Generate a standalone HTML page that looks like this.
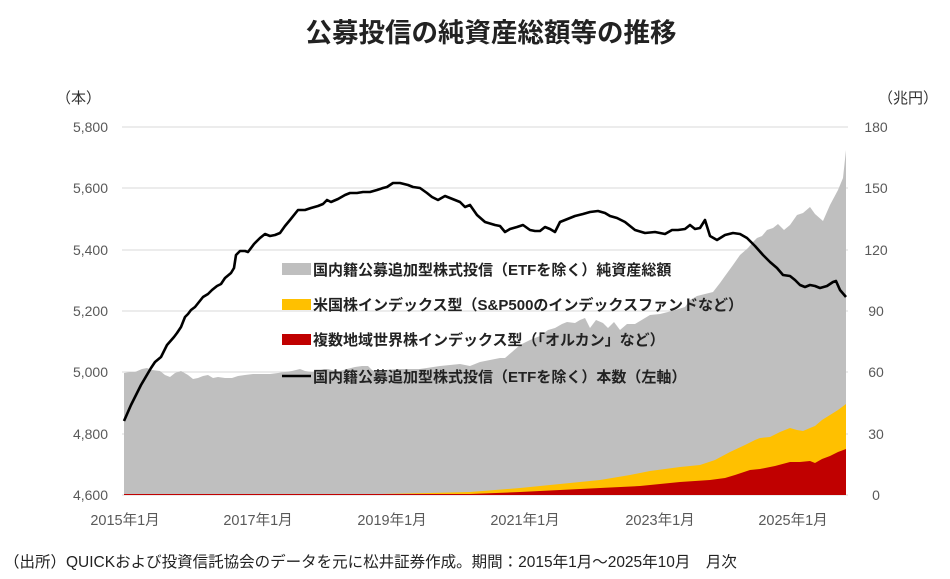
<!DOCTYPE html>
<html><head><meta charset="utf-8"><style>
html,body{margin:0;padding:0;background:#fff;}
svg text{font-family:"Liberation Sans","Noto Sans CJK JP",sans-serif;}
</style></head><body>
<svg width="950" height="574" viewBox="0 0 950 574" xmlns="http://www.w3.org/2000/svg">
<text x="491" y="42" text-anchor="middle" font-size="26.5" font-weight="bold" fill="#222">公募投信の純資産総額等の推移</text>
<text x="56" y="103" font-size="15" fill="#333">（本）</text>
<text x="878" y="103" font-size="15" fill="#333">（兆円）</text>
<g stroke="#d9d9d9" stroke-width="1">
<line x1="122" y1="127" x2="848" y2="127"/><line x1="122" y1="188" x2="848" y2="188"/>
<line x1="122" y1="250" x2="848" y2="250"/><line x1="122" y1="311" x2="848" y2="311"/>
<line x1="122" y1="372" x2="848" y2="372"/><line x1="122" y1="434" x2="848" y2="434"/>
<line x1="122" y1="495" x2="848" y2="495"/>
</g>
<g font-size="14" fill="#595959" text-anchor="end">
<text x="108" y="132">5,800</text><text x="108" y="193">5,600</text><text x="108" y="255">5,400</text>
<text x="108" y="316">5,200</text><text x="108" y="377">5,000</text><text x="108" y="439">4,800</text>
<text x="108" y="500">4,600</text>
</g>
<g font-size="14" fill="#595959" text-anchor="middle">
<text x="876" y="132">180</text><text x="876" y="193">150</text><text x="876" y="255">120</text>
<text x="876" y="316">90</text><text x="876" y="377">60</text><text x="876" y="439">30</text>
<text x="876" y="500">0</text>
</g>
<g font-size="14.5" fill="#595959" text-anchor="middle">
<text x="125" y="525">2015年1月</text><text x="258" y="525">2017年1月</text><text x="392" y="525">2019年1月</text>
<text x="525" y="525">2021年1月</text><text x="660" y="525">2023年1月</text><text x="793" y="525">2025年1月</text>
</g>
<polygon fill="#bfbfbf" points="124,495 124,373 130,372 135,372 142,369 147,368 152,370 160,371 165,375 170,377 175,373 181,371 188,375 193,379 198,378 203,376 208,375 213,378 218,377 225,378 232,378 238,376 245,375 253,374 262,374 270,374 278,373 285,372 292,371 300,369 305,371 312,372 318,371 324,369 328,369 335,371 340,371 347,369 355,367 362,366 368,366 372,370 378,373 385,370 400,369 420,369 440,366 460,364 470,366 480,362 490,360 500,358 505,358 512,352 520,345 530,340 540,336 548,330 555,328 562,324 567,322 575,323 580,320 585,318 590,328 596,320 603,323 608,328 614,322 620,330 627,324 635,324 645,318 650,315 660,314 668,312 675,310 685,307 690,300 697,296 705,294 713,292 720,283 725,276 733,265 740,255 748,248 753,242 757,238 762,236 767,230 773,228 778,224 784,230 790,225 797,215 803,213 810,207 815,214 823,221 830,205 838,190 843,178 846,150 846,495"/>
<polygon fill="#ffc000" points="124,495 124,494 300,494 380,494 430,493 470,492 520,488 560,484 600,480 630,475 650,471 680,467 700,465 715,460 730,452 745,445 755,440 760,438 770,437 780,432 790,428 797,430 803,431 810,428 815,426 822,420 830,415 838,410 846,404 846,495"/>
<polygon fill="#c00000" points="124,495 124,494 470,494 520,492 560,490 600,488 640,486 680,482 710,480 725,478 735,475 750,470 760,469 775,466 790,462 800,462 810,461 815,463 822,459 830,456 838,452 846,449 846,495"/>
<polyline fill="none" stroke="#000" stroke-width="2.6" stroke-linejoin="round" points="124,421 131,405 141,385 151,368 155,362 161,357 167,345 174,337 177,333 181,327 185,317 188,314 191,310 195,307 199,302 203,297 208,294 212,290 217,286 221,284 225,278 231,273 234,268 236,255 240,251 245,251 248,252 254,244 260,238 265,234 270,236 275,235 280,233 285,226 290,220 298,210 305,210 311,208 318,206 323,204 327,200 331,202 338,199 345,195 350,193 357,193 363,192 370,192 377,190 383,188 387,187 393,183 400,183 408,185 413,187 420,188 427,193 432,197 438,200 445,196 450,198 455,200 460,202 465,207 470,205 477,215 485,222 495,225 500,226 505,232 510,229 517,227 523,225 530,230 535,231 540,231 545,227 550,229 555,232 560,222 565,220 575,216 583,214 590,212 598,211 605,213 610,216 617,218 625,222 635,230 645,233 655,232 665,234 672,230 678,230 685,229 690,225 695,229 700,228 705,220 710,236 717,240 725,235 733,233 740,234 747,238 755,246 763,255 770,262 777,268 783,275 790,276 795,280 800,285 805,287 810,285 815,286 820,288 827,286 833,282 836,281 840,290 846,297"/>
<g font-size="15" font-weight="bold" fill="#222">
<rect x="282" y="263" width="29" height="12" fill="#bfbfbf"/>
<text x="313" y="275">国内籍公募追加型株式投信（ETFを除く）純資産総額</text>
<rect x="282" y="299" width="29" height="11" fill="#ffc000"/>
<text x="313" y="310">米国株インデックス型（S&amp;P500のインデックスファンドなど）</text>
<rect x="282" y="334" width="29" height="11" fill="#c00000"/>
<text x="313" y="345">複数地域世界株インデックス型（「オルカン」など）</text>
<line x1="282" y1="376" x2="311" y2="376" stroke="#000" stroke-width="2.6"/>
<text x="313" y="382">国内籍公募追加型株式投信（ETFを除く）本数（左軸）</text>
</g>
<text x="4" y="567" font-size="15.5" fill="#222">（出所）QUICKおよび投資信託協会のデータを元に松井証券作成。期間：2015年1月～2025年10月　月次</text>
</svg>
</body></html>
